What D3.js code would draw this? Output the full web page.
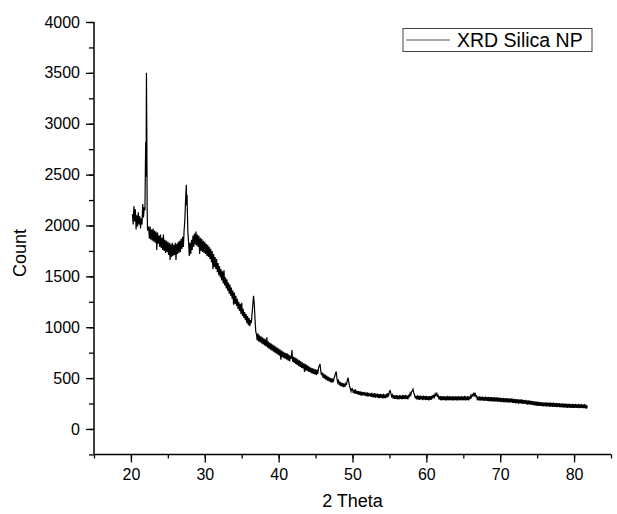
<!DOCTYPE html>
<html>
<head>
<meta charset="utf-8">
<script src="https://cdn.jsdelivr.net/npm/d3@7"></script>
<style>
  body { margin: 0; background: #fff; }
  text { font-family: Arial, "Liberation Sans", sans-serif; fill: #000; }
</style>
</head>
<body>
<svg id="chart" width="617" height="514"></svg>
<script>
// XRD scan: [2 theta, count]
const scanLow = [
  [20.2,2110],[20.3,2010],[20.4,2190],[20.5,2040],[20.6,2160],[20.7,1960],[20.8,2100],[20.9,1990],
  [21.0,2130],[21.1,2010],[21.2,2090],[21.3,1970],[21.4,2070],[21.5,2010],[21.6,2210],[21.7,2080],
  [21.8,2180],[21.9,2150],[21.95,2520],[22.0,2820],[22.05,2480],[22.1,3500],[22.15,2950],[22.2,2150],
  [22.25,1960],[22.4,1980],[22.5,1870],[22.6,1990],[22.7,1860],[22.8,1960],[22.9,1850],[23.0,1970],
  [23.1,1840],[23.2,1950],[23.3,1830],[23.4,1940],[23.5,1760],[23.6,1930],[23.7,1820],[23.8,1900],
  [23.9,1790],[24.0,1910],[24.1,1780],[24.2,1880],[24.3,1760],[24.4,1910],[24.5,1750],[24.6,1860],
  [24.7,1730],[24.8,1850],[24.9,1740],[25.0,1840],[25.1,1710],[25.2,1830],[25.3,1660],[25.4,1820],
  [25.5,1690],[25.6,1830],[25.7,1700],[25.8,1810],[25.9,1710],[26.0,1830],[26.1,1660],[26.2,1820],
  [26.3,1720],[26.4,1840],[26.5,1730],[26.6,1850],[26.7,1740],[26.8,1870],[26.9,1770],[27.0,1890],
  [27.1,1790],[27.2,1950],[27.3,2050],[27.4,2250],[27.5,2400],[27.55,2200],[27.6,2300],
  [27.7,1950],[27.8,1840],[27.9,1700],[28.0,1830],[28.1,1720],[28.2,1860],[28.3,1760],[28.4,1900],
  [28.5,1790],[28.6,1920],[28.7,1810],[28.8,1940],[28.9,1800],[29.0,1910],[29.1,1790],[29.2,1900],
  [29.3,1720],[29.4,1880],[29.5,1750],[29.6,1870],[29.7,1740],[29.8,1850],[29.9,1730],[30.0,1840]
];
const scanMid = [
  [30.1,1720],[30.2,1820],[30.3,1700],[30.4,1810],[30.5,1690],[30.6,1790],[30.7,1670],[30.8,1770],
  [30.9,1640],[31.0,1750],[31.1,1570],[31.2,1720],[31.3,1590],[31.4,1690],[31.5,1570],[31.6,1670],
  [31.7,1540],[31.8,1630],[31.9,1510],[32.0,1600],[32.1,1490],[32.2,1570],[32.3,1460],[32.4,1550],
  [32.5,1430],[32.6,1560],[32.7,1410],[32.8,1490],[32.9,1380],[33.0,1470],[33.1,1360],[33.2,1440],
  [33.3,1330],[33.4,1420],[33.5,1310],[33.6,1390],[33.7,1280],[33.8,1360],[33.9,1220],[34.0,1340],
  [34.1,1230],[34.2,1310],[34.3,1210],[34.4,1280],[34.5,1180],[34.6,1250],[34.7,1160],[34.8,1230],
  [34.9,1130],[35.0,1240],[35.1,1110],[35.2,1180],[35.3,1090],[35.4,1150],[35.5,1070],[35.6,1130],
  [35.7,1040],[35.8,1110],[35.9,1020],[36.0,1090],[36.1,1010],[36.2,1070],[36.3,1040],[36.4,1130],
  [36.5,1220],[36.6,1310],[36.7,1230],[36.8,1080],[36.9,960],[37.0,930],[37.1,870],[37.2,940],
  [37.3,860],[37.4,920],[37.5,850],[37.6,910],[37.7,840],[37.8,900],[37.9,830],[38.0,890],
  [38.1,820],[38.2,880],[38.3,810],[38.4,900],[38.5,800],[38.6,860],[38.7,790],[38.8,850],
  [38.9,780],[39.0,840],[39.1,770],[39.2,830],[39.3,760],[39.4,820],[39.5,750],[39.6,810],
  [39.7,740],[39.8,800],[39.9,730],[40.0,790],[40.1,720],[40.2,780],[40.3,680],[40.4,770],
  [40.5,705],[40.6,760],[40.7,695],[40.8,750],[40.9,690],[41.0,745],[41.1,680],[41.2,740],
  [41.3,670],[41.4,730],[41.5,665],[41.6,720],[41.7,690],[41.8,775],[41.9,660],[42.0,710],
  [42.1,650],[42.2,705],[42.3,640],[42.4,695],[42.5,630],[42.6,685],[42.7,620],[42.8,675],
  [42.9,610],[43.0,665],[43.1,600],[43.2,655],[43.3,595],[43.4,645],[43.5,560],[43.6,640],
  [43.7,575],[43.8,630],[43.9,570],[44.0,620],[44.1,560],[44.2,610],[44.3,555],[44.4,600],
  [44.5,545],[44.6,595],[44.7,540],[44.8,590],[44.9,535],[45.0,585],[45.1,530],[45.2,580],
  [45.3,540],[45.4,600],[45.5,620],[45.6,640],[45.7,570],[45.8,530],[45.9,555],[46.0,505],
  [46.1,545],[46.2,495],[46.3,535],[46.4,485],[46.5,525],[46.6,475],[46.7,515],[46.8,470],
  [46.9,505],[47.0,460],[47.1,500],[47.2,455],[47.3,495],[47.4,460],[47.5,500],[47.6,520],
  [47.7,545],[47.8,565],[47.9,490],[48.0,455],[48.1,475],[48.2,430],[48.3,465],[48.4,420],
  [48.5,455],[48.6,415],[48.7,450],[48.8,410],[48.9,445],[49.0,415],[49.1,450],[49.2,440],
  [49.3,480],[49.4,505],[49.5,460],[49.6,420],[49.7,400],[49.8,370],[49.9,395]
];
const scanHigh = [
  [50.0,395],[50.1,355],[50.2,385],[50.3,348],[50.4,390],[50.5,345],[50.6,375],[50.7,340],[50.8,372],[50.9,335],
  [51.0,370],[51.1,330],[51.2,368],[51.3,328],[51.4,362],[51.5,332],[51.6,365],[51.7,325],[51.8,358],[51.9,322],
  [52.0,360],[52.1,318],[52.2,355],[52.3,322],[52.4,350],[52.5,315],[52.6,355],[52.7,312],[52.8,348],[52.9,310],
  [53.0,352],[53.1,308],[53.2,345],[53.3,310],[53.4,348],[53.5,305],[53.6,342],[53.7,302],[53.8,345],[53.9,306],
  [54.0,340],[54.1,300],[54.2,344],[54.3,304],[54.4,338],[54.5,302],[54.6,345],[54.7,310],[54.8,352],[54.9,330],
  [55.0,368],[55.1,378],[55.2,350],[55.3,318],[55.4,335],[55.5,298],[55.6,332],[55.7,295],[55.8,330],[55.9,292],
  [56.0,334],[56.1,294],[56.2,328],[56.3,290],[56.4,332],[56.5,296],[56.6,328],[56.7,290],[56.8,334],[56.9,295],
  [57.0,330],[57.1,292],[57.2,335],[57.3,296],[57.4,328],[57.5,290],[57.6,336],[57.7,310],[57.8,352],[57.9,335],
  [58.0,368],[58.1,375],[58.2,390],[58.3,350],[58.4,338],[58.5,300],[58.6,326],[58.7,290],[58.8,330],[58.9,288],
  [59.0,326],[59.1,286],[59.2,328],[59.3,290],[59.4,324],[59.5,284],[59.6,328],[59.7,288],[59.8,322],[59.9,284],
  [60.0,326],[60.1,286],[60.2,320],[60.3,282],[60.4,324],[60.5,286],[60.6,322],[60.7,288],[60.8,330],[60.9,300],
  [61.0,338],[61.1,315],[61.2,345],[61.3,330],[61.4,356],[61.5,322],[61.6,330],[61.7,290],[61.8,322],[61.9,284],
  [62.0,324],[62.1,282],[62.2,320],[62.3,286],[62.4,324],[62.5,282],[62.6,318],[62.7,280],[62.8,326],[62.9,284],
  [63.0,320],[63.1,280],[63.2,322],[63.3,284],[63.4,318],[63.5,280],[63.6,324],[63.7,282],[63.8,318],[63.9,284],
  [64.0,322],[64.1,282],[64.2,318],[64.3,280],[64.4,324],[64.5,284],[64.6,318],[64.7,280],[64.8,322],[64.9,284],
  [65.0,318],[65.1,282],[65.2,326],[65.3,280],[65.4,318],[65.5,284],[65.6,322],[65.7,280],[65.8,318],[65.9,290],
  [66.0,328],[66.1,310],[66.2,338],[66.3,325],[66.4,348],[66.5,330],[66.6,356],[66.7,318],[66.8,325],[66.9,282],
  [67.0,318],[67.1,280],[67.2,320],[67.3,278],[67.4,316],[67.5,280],[67.6,318],[67.7,276],[67.8,314],[67.9,278],
  [68.0,318],[68.1,275],[68.2,312],[68.3,276],[68.4,316],[68.5,272],[68.6,312],[68.7,274],[68.8,314],[68.9,270],
  [69.0,310],[69.1,272],[69.2,314],[69.3,268],[69.4,308],[69.5,270],[69.6,312],[69.7,266],[69.8,306],[69.9,268],
  [70.0,308],[70.1,264],[70.2,304],[70.3,266],[70.4,306],[70.5,262],[70.6,302],[70.7,264],[70.8,304],[70.9,260],
  [71.0,300],[71.1,262],[71.2,302],[71.3,258],[71.4,298],[71.5,260],[71.6,300],[71.7,255],[71.8,294],[71.9,256],
  [72.0,296],[72.1,252],[72.2,292],[72.3,254],[72.4,294],[72.5,250],[72.6,288],[72.7,252],[72.8,290],[72.9,248],
  [73.0,288],[73.1,246],[73.2,284],[73.3,248],[73.4,286],[73.5,244],[73.6,282],[73.7,240],[73.8,280],[73.9,242],
  [74.0,278],[74.1,238],[74.2,276],[74.3,236],[74.4,274],[74.5,234],[74.6,272],[74.7,232],[74.8,270],[74.9,230],
  [75.0,268],[75.1,228],[75.2,266],[75.3,226],[75.4,264],[75.5,228],[75.6,262],[75.7,224],[75.8,262],[75.9,222],
  [76.0,260],[76.1,224],[76.2,262],[76.3,220],[76.4,258],[76.5,222],[76.6,260],[76.7,218],[76.8,258],[76.9,220],
  [77.0,256],[77.1,218],[77.2,258],[77.3,216],[77.4,254],[77.5,218],[77.6,256],[77.7,214],[77.8,252],[77.9,216],
  [78.0,254],[78.1,212],[78.2,250],[78.3,214],[78.4,252],[78.5,210],[78.6,248],[78.7,212],[78.8,250],[78.9,210],
  [79.0,248],[79.1,208],[79.2,246],[79.3,210],[79.4,248],[79.5,206],[79.6,244],[79.7,208],[79.8,246],[79.9,206],
  [80.0,244],[80.1,208],[80.2,246],[80.3,206],[80.4,242],[80.5,208],[80.6,246],[80.7,204],[80.8,242],[80.9,206],
  [81.0,244],[81.1,204],[81.2,240],[81.3,206],[81.4,244],[81.5,202],[81.6,240],[81.7,200],[81.8,228]
];

const xTicks = [20, 30, 40, 50, 60, 70, 80];
const yTicks = [0, 500, 1000, 1500, 2000, 2500, 3000, 3500, 4000];
const seriesName = "XRD Silica NP";

const svg = d3.select("#chart");
const W = 617, H = 514;
svg.append("rect").attr("width", W).attr("height", H).attr("fill", "#fff");

const x = d3.scaleLinear().domain([15, 85]).range([94, 611]);
const y = d3.scaleLinear().domain([-250, 4000]).range([454.4, 22]);

const scan = scanLow.concat(scanMid, scanHigh);

// axes (bottom / left only, ticks outside, minor ticks between)
svg.append("g").attr("transform", `translate(0,${y(-250)})`)
  .call(d3.axisBottom(x).tickValues(d3.range(15, 86, 5)).tickSize(4).tickFormat(""))
  .call(g => g.select(".domain").attr("d", `M${x(15)},0H${x(85)}`).attr("stroke-width", 1.5));
svg.append("g").attr("transform", `translate(0,${y(-250)})`)
  .call(d3.axisBottom(x).tickValues(xTicks).tickSize(8).tickPadding(6).tickFormat(d3.format("d")))
  .call(g => g.select(".domain").remove())
  .call(g => g.selectAll("text").attr("font-size", 16));

svg.append("g").attr("transform", `translate(${x(15)},0)`)
  .call(d3.axisLeft(y).tickValues(d3.range(-250, 4001, 250)).tickSize(5).tickFormat(""))
  .call(g => g.select(".domain").attr("d", `M0,${y(-250)}V${y(4000)}`).attr("stroke-width", 1.5));
svg.append("g").attr("transform", `translate(${x(15)},0)`)
  .call(d3.axisLeft(y).tickValues(yTicks).tickSize(8).tickPadding(6).tickFormat(d3.format("d")))
  .call(g => g.select(".domain").remove())
  .call(g => g.selectAll("text").attr("font-size", 16));

svg.selectAll(".tick line").attr("stroke-width", 1.3);

// the scan
const line = d3.line().x(d => x(d[0])).y(d => y(d[1]));
svg.append("path")
  .datum(scan)
  .attr("fill", "none")
  .attr("stroke", "#000")
  .attr("stroke-width", 1.2)
  .attr("d", line);

// axis titles
svg.append("text")
  .attr("x", (x(15) + x(85)) / 2)
  .attr("y", 507)
  .attr("text-anchor", "middle")
  .attr("font-size", 18)
  .text("2 Theta");

svg.append("text")
  .attr("transform", "translate(26,253) rotate(-90)")
  .attr("text-anchor", "middle")
  .attr("font-size", 18)
  .text("Count");

// legend
const legend = svg.append("g");
legend.append("rect")
  .attr("x", 403).attr("y", 28.5).attr("width", 189).attr("height", 23)
  .attr("fill", "#fff").attr("stroke", "#444").attr("stroke-width", 1);
legend.append("line")
  .attr("x1", 406).attr("x2", 450).attr("y1", 40).attr("y2", 40)
  .attr("stroke", "#555").attr("stroke-width", 1);
legend.append("text")
  .attr("x", 457).attr("y", 47)
  .attr("font-size", 19.5)
  .text(seriesName);
</script>
</body>
</html>
